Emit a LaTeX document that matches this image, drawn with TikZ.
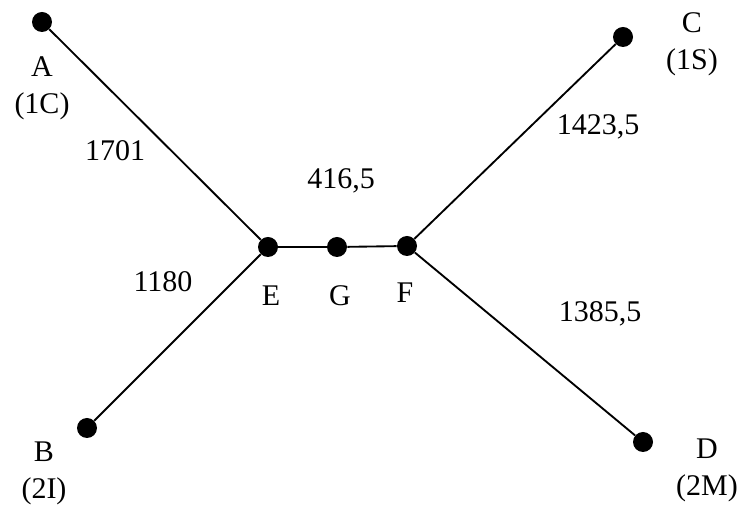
\documentclass[tikz,border=0pt]{standalone}
\usepackage{fontspec}
\setmainfont{Liberation Serif}
\usepackage{tikz}

\tikzset{
  point/.style={circle, fill=black, inner sep=0pt, minimum size=15pt},
  txt/.style={inner sep=0pt, align=center, font=\fontsize{22.5}{27.75}\selectfont},
  link/.style={line width=1.4pt}
}

\begin{document}
\begin{tikzpicture}[x=0.75pt, y=-0.75pt]
  \useasboundingbox (0,0) rectangle (740,505);
  %Define nodes
  \node[point] at (42,22)   (A) {};
  \node[point] at (623,37)  (C) {};
  \node[point] at (268,247) (E) {};
  \node[point] at (337,247) (G) {};
  \node[point] at (407,246) (F) {};
  \node[point] at (87,428)  (B) {};
  \node[point] at (643,442) (D) {};

  % Labels
  \node[txt] at (42,88)   (A_lab) {A\\(1C)};
  \node[txt] at (692,44)  (C_lab) {C\\(1S)};
  \node[txt] at (44,473)  (B_lab) {B\\(2I)};
  \node[txt] at (707,470) (D_lab) {D\\(2M)};
  \node[txt] at (271,296) (E_lab) {E};
  \node[txt] at (340,296) (G_lab) {G};
  \node[txt] at (405,293) (F_lab) {F};
  \node[txt] at (115,151) (d_AE) {1701};
  \node[txt] at (163,282) (d_BE) {1180};
  \node[txt] at (341,181) (d_EF) {416,5};
  \node[txt] at (598,127) (d_CF) {1423,5};
  \node[txt] at (600,314) (d_DF) {1385,5};

  % Connect the nodes
  \draw[link] (A) -- (E);
  \draw[link] (B) -- (E);
  \draw[link] (E) -- (G);
  \draw[link] (G) -- (F);
  \draw[link] (C) -- (F);
  \draw[link] (D) -- (F);
\end{tikzpicture}
\end{document}
